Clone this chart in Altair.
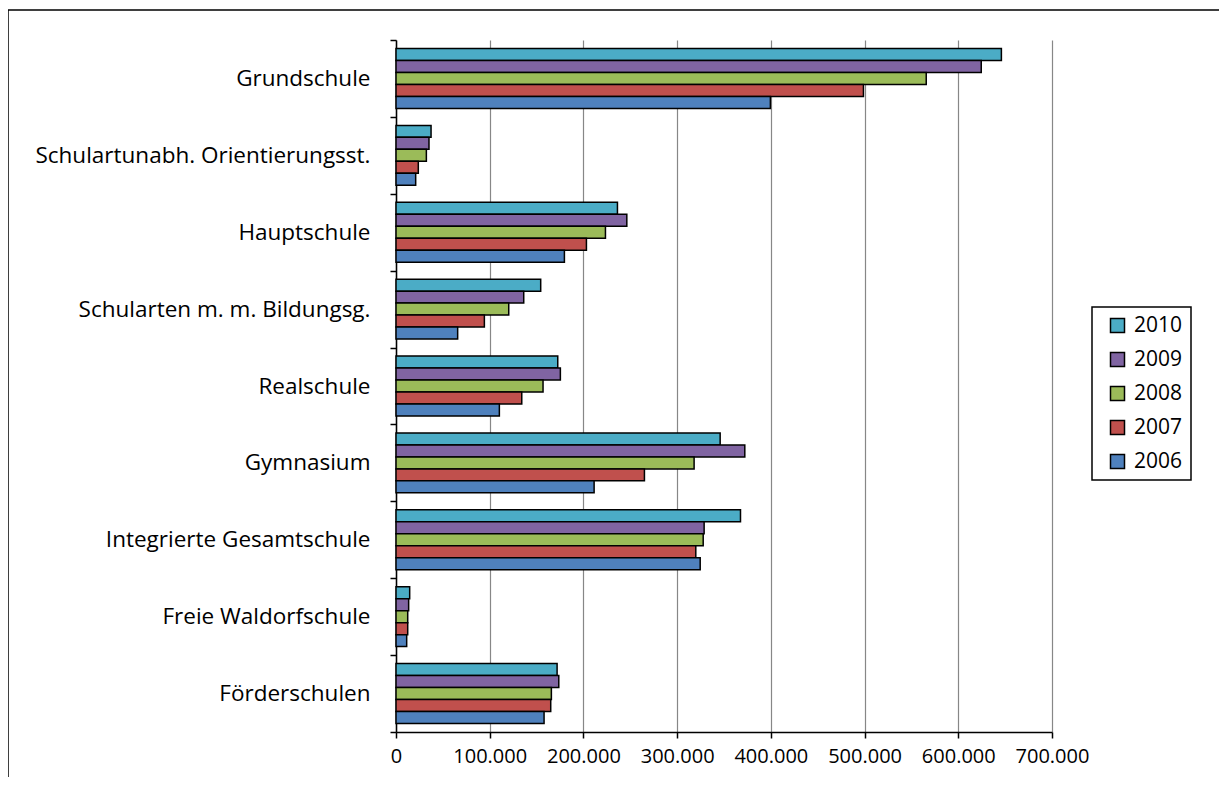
import altair as alt
import pandas as pd

schularten = ["Grundschule", "Schulartunabh. Orientierungsst.", "Hauptschule",
              "Schularten m. m. Bildungsg.", "Realschule", "Gymnasium",
              "Integrierte Gesamtschule", "Freie Waldorfschule", "Förderschulen"]
years = ["2010", "2009", "2008", "2007", "2006"]
colors = ["#4BACC6", "#8064A2", "#9BBB59", "#C0504D", "#4F81BD"]

v2010 = [646000, 37400, 236300, 154400, 172600, 345900, 367600, 14600, 171900]
v2009 = [624500, 35200, 246300, 136300, 175400, 372200, 328800, 13500, 173700]
v2008 = [565800, 32400, 223500, 120300, 156900, 318100, 327800, 12500, 165800]
v2007 = [498800, 23800, 203200, 94300, 134200, 265100, 319900, 12500, 165100]
v2006 = [399500, 21000, 179700, 65800, 110300, 211400, 324600, 11400, 158000]
series = {"2010": v2010, "2009": v2009, "2008": v2008, "2007": v2007, "2006": v2006}

rows = []
for y in years:
    for s, v in zip(schularten, series[y]):
        rows.append({"Schulart": s, "Jahr": y, "Wert": v})
df = pd.DataFrame(rows)

FONT = "Open Sans"

bars = alt.Chart(df).mark_bar(stroke="black", strokeWidth=1.5).encode(
    x=alt.X("Wert:Q",
            scale=alt.Scale(domain=[0, 700000], nice=False),
            axis=alt.Axis(values=[0, 100000, 200000, 300000, 400000, 500000, 600000, 700000],
                          labelExpr="replace(format(datum.value, ',d'), ',', '.')",
                          title=None, grid=True, gridColor="#878787", gridWidth=1.2,
                          domainColor="black", domainWidth=1.5,
                          tickColor="black", tickWidth=1.5, tickSize=6,
                          labelFontSize=20, labelFont=FONT, labelColor="black",
                          labelPadding=8, labelFlush=False)),
    y=alt.Y("Schulart:N", sort=schularten,
            scale=alt.Scale(paddingInner=0, paddingOuter=0),
            axis=alt.Axis(title=None, tickBand="extent", domainColor="black", domainWidth=1.5,
                          tickColor="black", tickWidth=1.5, tickSize=6,
                          labelFontSize=22.5, labelFont=FONT, labelColor="black",
                          labelPadding=20, labelLimit=400)),
    yOffset=alt.YOffset("Jahr:N", sort=years,
                        scale=alt.Scale(paddingInner=0, paddingOuter=0.71)),
    color=alt.Color("Jahr:N", sort=years,
                    scale=alt.Scale(domain=years, range=colors),
                    legend=alt.Legend(title=None, orient="none", legendX=696, legendY=267,
                                      symbolType="square", symbolSize=196,
                                      symbolStrokeColor="black", symbolStrokeWidth=1.5,
                                      symbolOffset=7,
                                      labelFontSize=21, labelFont=FONT, labelColor="black",
                                      rowPadding=12, padding=8, strokeColor="black",
                                      labelOffset=6)),
)

frame = alt.Chart(alt.Data(values=[{"a": 1}])).mark_rect(
    fill=None, stroke="black", strokeWidth=1.5
).encode(x=alt.value(-388), x2=alt.value(900), y=alt.value(-30), y2=alt.value(900))

chart = alt.layer(frame, bars).properties(
    width=656, height=692,
    autosize=alt.AutoSizeParams(type="none"),
    padding={"left": 388, "top": 32, "right": 167, "bottom": 45},
).configure_view(stroke=None).configure_legend(strokeWidth=1.5)

chart.save("out.html", embed_options={"renderer": "svg", "actions": False})
